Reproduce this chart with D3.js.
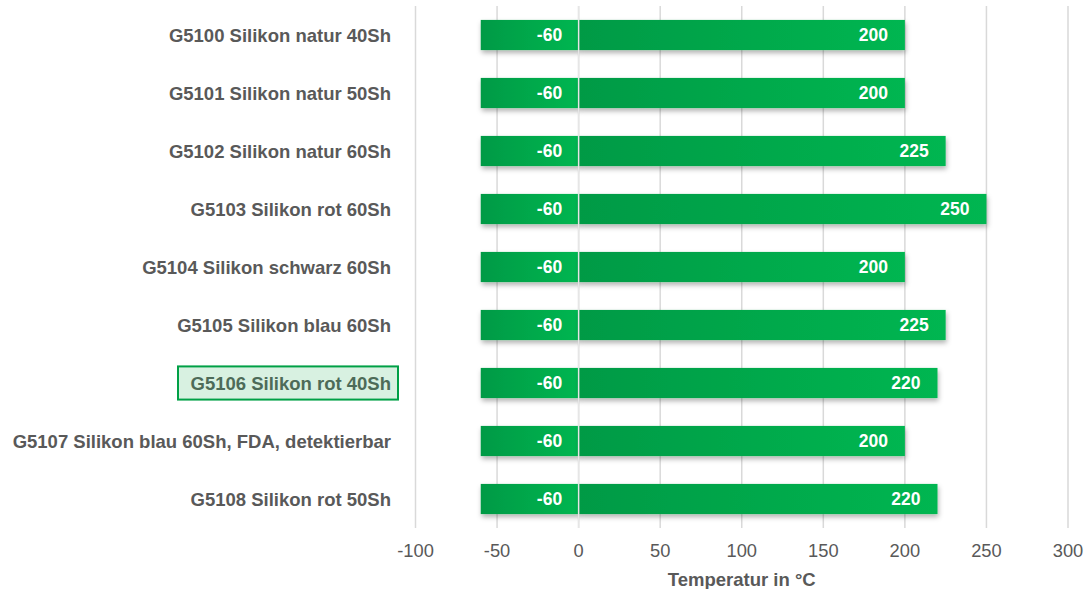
<!DOCTYPE html>
<html><head><meta charset="utf-8">
<script src="https://cdn.jsdelivr.net/npm/d3@7"></script>
<style>body{margin:0;background:#fff;}svg{display:block;font-family:"Liberation Sans",Arial,sans-serif;}</style>
</head><body>
<svg id="c" width="1086" height="589"></svg>
<script>
const categories = ["G5100 Silikon natur 40Sh","G5101 Silikon natur 50Sh","G5102 Silikon natur 60Sh","G5103 Silikon rot 60Sh","G5104 Silikon schwarz 60Sh","G5105 Silikon blau 60Sh","G5106 Silikon rot 40Sh","G5107 Silikon blau 60Sh, FDA, detektierbar","G5108 Silikon rot 50Sh"];
const minTemp = [-60,-60,-60,-60,-60,-60,-60,-60,-60];
const maxTemp = [200,200,225,250,200,225,220,200,220];
const ticks = [-100,-50,0,50,100,150,200,250,300];
const highlighted = "G5106 Silikon rot 40Sh";
const axisTitle = "Temperatur in °C";

(function(){
const svg = d3.select("#c");
const L = 415.5, R = 1068, T = 6, B = 528;
const x = d3.scaleLinear().domain([-100,300]).range([L,R]);
const y = d3.scaleBand().domain(categories).range([T,B]).paddingInner(0.48).paddingOuter(0.24);

const defs = svg.append("defs");
const g = defs.append("linearGradient").attr("id","grad").attr("x1","0").attr("x2","1").attr("y1","0").attr("y2","0");
g.append("stop").attr("offset","0").attr("stop-color","#009a45");
g.append("stop").attr("offset","1").attr("stop-color","#00b651");
const f = defs.append("filter").attr("id","sh").attr("x","-5%").attr("y","-30%").attr("width","110%").attr("height","180%");
f.append("feDropShadow").attr("dx",1).attr("dy",3).attr("stdDeviation",2.5).attr("flood-color","#000").attr("flood-opacity",0.3);

svg.append("g").selectAll("line").data(ticks).join("line")
  .attr("x1",d=>x(d)).attr("x2",d=>x(d)).attr("y1",T).attr("y2",B)
  .attr("stroke","#d9d9d9").attr("stroke-width",1.5);

const data = categories.map((c,i)=>({c,min:minTemp[i],max:maxTemp[i]}));
const bars = svg.append("g");
bars.selectAll("rect.n").data(data).join("rect").attr("class","n")
  .attr("x",d=>x(d.min)).attr("width",d=>x(0)-x(d.min))
  .attr("y",d=>y(d.c)).attr("height",y.bandwidth())
  .attr("fill","url(#grad)").attr("filter","url(#sh)");
bars.selectAll("rect.p").data(data).join("rect").attr("class","p")
  .attr("x",x(0)).attr("width",d=>x(d.max)-x(0))
  .attr("y",d=>y(d.c)).attr("height",y.bandwidth())
  .attr("fill","url(#grad)").attr("filter","url(#sh)");
svg.append("line").attr("x1",x(0)).attr("x2",x(0)).attr("y1",T).attr("y2",B)
  .attr("stroke","#e6e6e6").attr("stroke-width",1.5);

const lab = svg.append("g").attr("fill","#fff").attr("font-weight","bold").attr("font-size",17.5).attr("text-anchor","end");
lab.selectAll("text.n").data(data).join("text").attr("class","n")
  .attr("x",x(0)-16.5).attr("y",d=>y(d.c)+y.bandwidth()/2).attr("dy","0.36em").text(d=>d.min);
lab.selectAll("text.p").data(data).join("text").attr("class","p")
  .attr("x",d=>x(d.max)-17).attr("y",d=>y(d.c)+y.bandwidth()/2).attr("dy","0.36em").text(d=>d.max);

const cat = svg.append("g");
const hy = y(highlighted);
cat.append("rect").attr("x",178).attr("y",hy-1.5).attr("width",220).attr("height",y.bandwidth()+3)
  .attr("fill","#d8f1e1").attr("stroke","#00a046").attr("stroke-width",2);
cat.selectAll("text").data(categories).join("text")
  .attr("x",391).attr("y",d=>y(d)+y.bandwidth()/2).attr("dy","0.36em")
  .attr("text-anchor","end").attr("font-weight","bold").attr("font-size",18.5)
  .attr("fill",d=>d===highlighted?"#4d6b58":"#595959").text(d=>d);

svg.append("g").selectAll("text").data(ticks).join("text")
  .attr("x",d=>x(d)).attr("y",557).attr("text-anchor","middle")
  .attr("font-size",18.3).attr("fill","#595959").text(d=>d);
svg.append("text").attr("x",(L+R)/2).attr("y",586).attr("text-anchor","middle")
  .attr("font-size",18.5).attr("font-weight","bold").attr("fill","#595959").text(axisTitle);
})();
</script>
</body></html>
